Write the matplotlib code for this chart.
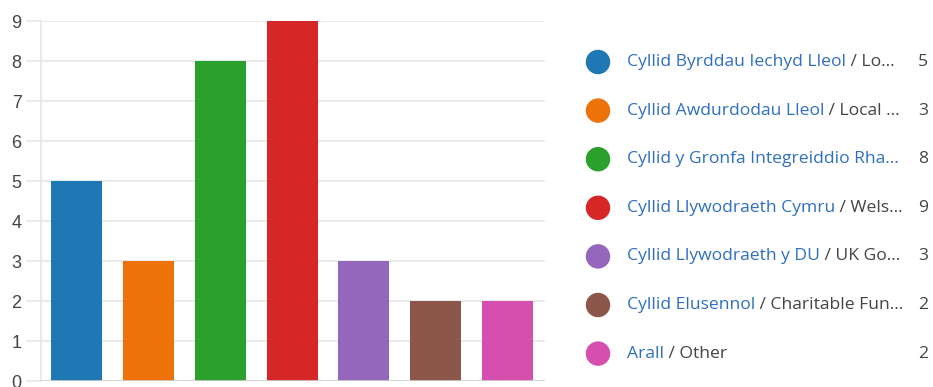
import matplotlib
matplotlib.use("Agg")
import matplotlib.pyplot as plt

categories_cy = ["Cyllid Byrddau Iechyd Lleol", "Cyllid Awdurdodau Lleol",
                 "Cyllid y Gronfa Integreiddio Rha...", "Cyllid Llywodraeth Cymru",
                 "Cyllid Llywodraeth y DU", "Cyllid Elusennol", "Arall"]
categories_en = [" / Lo...", " / Local ...", "", " / Wels...",
                 " / UK Go...", " / Charitable Fun...", " / Other"]
values = [5, 3, 8, 9, 3, 2, 2]
colors = ["#1f77b4", "#ec7209", "#2ca02c", "#d62728", "#9467bd", "#8c564b", "#d44fae"]
yticks = list(range(0, 10))

plt.rcParams['font.family'] = ['Open Sans', 'DejaVu Sans']

fig = plt.figure(figsize=(9.33, 3.87), dpi=100)
ax = fig.add_axes([41 / 933, 1 - 381 / 387, (545 - 41) / 933, (381 - 21) / 387])

x = list(range(len(values)))
ax.bar(x, values, width=0.71, color=colors, zorder=3)
ax.set_xlim(-0.494, 6.52)
ax.set_ylim(0, 9)
ax.set_yticks(yticks)
ax.set_yticklabels([str(v) for v in yticks], family='Liberation Sans')
ax.grid(axis='y', color='#e6e6e6', linewidth=1.2, zorder=0)
ax.tick_params(axis='y', length=11, color='#e6e6e6', width=1.2, labelsize=13,
               labelcolor='#444444', pad=3)
ax.tick_params(axis='x', length=0, labelbottom=False)
for s in ['top', 'right', 'bottom']:
    ax.spines[s].set_visible(False)
ax.spines['left'].set_color('#e6e6e6')
ax.spines['left'].set_linewidth(1.2)
ax.axhline(0, color='#d0d0d0', linewidth=1.2, zorder=4)

# legend drawn by hand
lax = fig.add_axes([0, 0, 1, 1])
lax.set_xlim(0, 933)
lax.set_ylim(387, 0)
lax.axis('off')
row_y = [62 + i * 48.6 for i in range(len(values))]
fig.canvas.draw()
renderer = fig.canvas.get_renderer()
for i in range(len(values)):
    lax.scatter(598, row_y[i], s=310, color=colors[i], edgecolors='none')
    t = lax.text(627, row_y[i], categories_cy[i], color='#2f6fc1', fontsize=12.6,
                 va='center', ha='left')
    bb = t.get_window_extent(renderer=renderer)
    fig.text(bb.x1 / 933, 1 - row_y[i] / 387, categories_en[i], color='#444444',
             fontsize=12.6, va='center', ha='left')
    lax.text(928, row_y[i], str(values[i]), color='#444444', fontsize=12.6,
             va='center', ha='right')

fig.savefig("out.png", dpi=100)
